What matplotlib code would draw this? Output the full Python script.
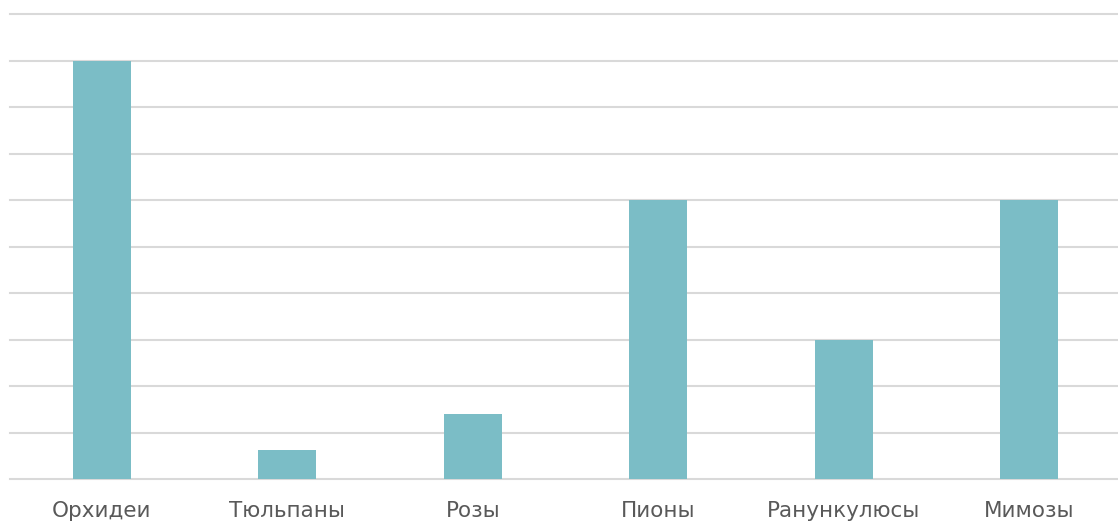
import matplotlib
matplotlib.use("Agg")
import matplotlib.pyplot as plt

categories = ["Орхидеи", "Тюльпаны", "Розы", "Пионы", "Ранункулюсы", "Мимозы"]
values = [9, 0.63, 1.4, 6, 3, 6]

BAR_COLOR = "#7bbdc6"
GRID_COLOR = "#d9d9d9"
TEXT_COLOR = "#595959"

fig = plt.figure(figsize=(11.18, 5.22), dpi=100)
ax = fig.add_axes([10 / 1118, 1 - 479 / 522, 1108 / 1118, 465 / 522])

xs = range(len(categories))
ax.bar(xs, values, width=0.313, color=BAR_COLOR, zorder=3)

ax.set_ylim(0, 10)
ax.set_xlim(-0.496, 5.48)
ax.set_yticks(range(0, 11))
ax.yaxis.grid(True, color=GRID_COLOR, linewidth=1.5, zorder=0)
for gl in ax.get_ygridlines():
    gl.set_clip_on(False)
ax.set_yticklabels([])
ax.tick_params(axis="y", length=0)

ax.set_xticks(list(xs))
ax.set_xticklabels(categories, fontsize=15.5, color=TEXT_COLOR, family="DejaVu Sans")
ax.tick_params(axis="x", length=0, pad=16)

for s in ax.spines.values():
    s.set_visible(False)

fig.savefig("out.png", dpi=100)
